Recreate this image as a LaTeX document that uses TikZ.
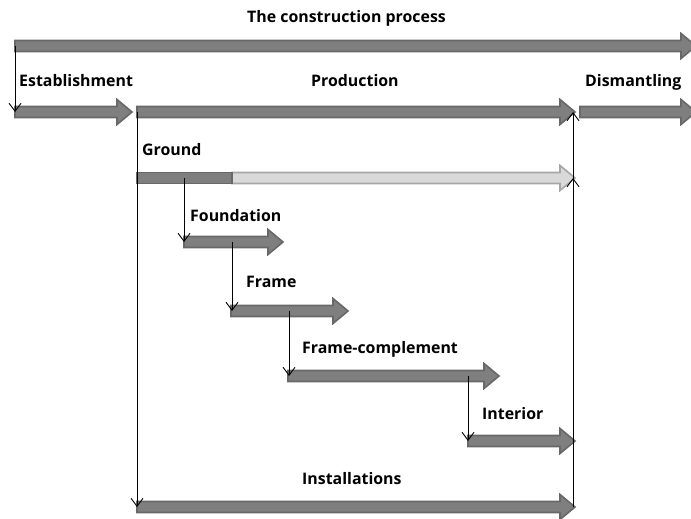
\documentclass[tikz,border=0pt]{standalone}
\usepackage{fontspec}
\setmainfont{Open Sans}
\usetikzlibrary{arrows.meta}
\definecolor{barfill}{HTML}{7F7F7F}
\definecolor{barline}{HTML}{686868}
\definecolor{lightfill}{HTML}{D9D9D9}
\definecolor{lightline}{HTML}{A6A6A6}
\tikzset{
  darkbar/.style={fill=barfill,draw=barline,line width=1.6pt},
  lightbar/.style={fill=lightfill,draw=lightline,line width=1.6pt},
  lbl/.style={font=\fontsize{15.9}{18}\selectfont\bfseries,anchor=base west,inner sep=0pt},
  conn/.style={draw=black,line width=0.9pt,-{Straight Barb[length=8pt,width=12pt,line width=0.9pt]}}
}
% \barrow{style}{x1}{x2}{y}
\newcommand{\barrow}[4]{%
  \path[#1] (#2,#4-5.5) -- (#3-15,#4-5.5) -- (#3-15,#4-12.5) -- (#3,#4) -- (#3-15,#4+12.5) -- (#3-15,#4+5.5) -- (#2,#4+5.5) -- cycle;}
\begin{document}
\begin{tikzpicture}[x=1pt,y=-1pt]
\useasboundingbox (0,0) rectangle (691,519);
\clip (0,0) rectangle (691,519);
% bars
\barrow{darkbar}{15}{696}{46}
\barrow{darkbar}{15}{132}{112}
\barrow{darkbar}{137}{575}{112}
\barrow{darkbar}{580}{696}{112}
\barrow{lightbar}{232}{575}{178}
\path[darkbar] (137,172.5) rectangle (232,183.5);
\barrow{darkbar}{184}{283}{242}
\barrow{darkbar}{231}{348}{311}
\barrow{darkbar}{288}{499}{376}
\barrow{darkbar}{468}{575}{441}
\barrow{darkbar}{137}{575}{507}
% named points
\coordinate (proc) at (15,46);
\coordinate (est) at (15,112);
\coordinate (prodS) at (137,112);
\coordinate (prodE) at (573,112);
\coordinate (grd) at (184,178);
\coordinate (grdE) at (573,178);
\coordinate (fnd) at (184,242);
\coordinate (fndO) at (232,242);
\coordinate (frm) at (232,311);
\coordinate (frmO) at (289,311);
\coordinate (fc) at (289,376);
\coordinate (fcO) at (468,376);
\coordinate (int) at (468,441);
\coordinate (inst) at (137,507);
\coordinate (instE) at (573,507);
% labels
\node[lbl] (tProc) at (247,23) {The construction process};
\node[lbl] (tEst) at (19,87) {Establishment};
\node[lbl] (tProd) at (311,87) {Production};
\node[lbl] (tDis) at (585,87) {Dismantling};
\node[lbl] (tGrd) at (142,155) {Ground};
\node[lbl] (tFnd) at (190,221) {Foundation};
\node[lbl] (tFrm) at (246,287) {Frame};
\node[lbl] (tFc) at (302,353) {Frame-complement};
\node[lbl] (tInt) at (482,419) {Interior};
\node[lbl] (tInst) at (302,484) {Installations};
% connectors
\draw[conn] (proc) -- (est);
\draw[conn] (prodS) -- (inst);
\draw[conn] (grd) -- (fnd);
\draw[conn] (fndO) -- (frm);
\draw[conn] (frmO) -- (fc);
\draw[conn] (fcO) -- (int);
\draw[conn] (instE) -- (grdE);
\draw[conn] (instE) -- (prodE);
\end{tikzpicture}
\end{document}
